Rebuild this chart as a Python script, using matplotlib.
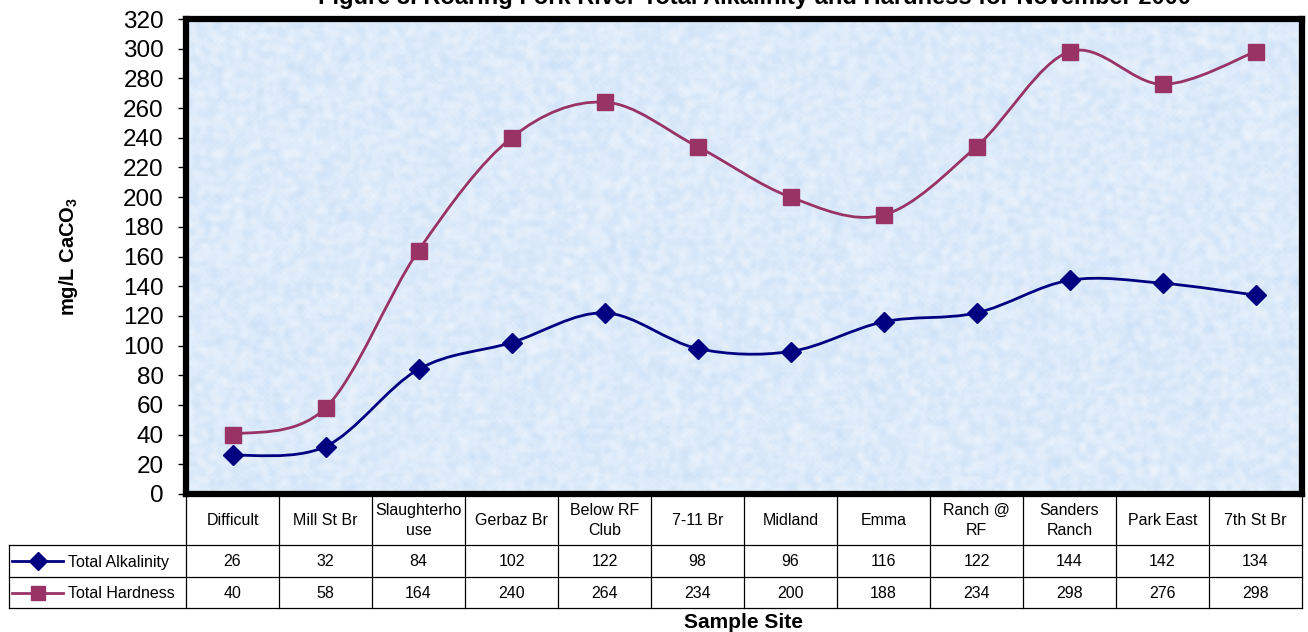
import numpy as np
import matplotlib
matplotlib.use("Agg")
import matplotlib.pyplot as plt
from matplotlib.path import Path
from matplotlib.patches import PathPatch
from matplotlib.lines import Line2D
import matplotlib.transforms as mtransforms

plt.rcParams['font.family'] = ['Liberation Sans', 'DejaVu Sans']
plt.rcParams['mathtext.fontset'] = 'custom'
plt.rcParams['mathtext.rm'] = 'Liberation Sans:bold'
plt.rcParams['mathtext.bf'] = 'Liberation Sans:bold'

sites = ["Difficult", "Mill St Br", "Slaughterho\nuse", "Gerbaz Br", "Below RF\nClub",
         "7-11 Br", "Midland", "Emma", "Ranch @\nRF", "Sanders\nRanch", "Park East", "7th St Br"]
alkalinity = [26, 32, 84, 102, 122, 98, 96, 116, 122, 144, 142, 134]
hardness = [40, 58, 164, 240, 264, 234, 200, 188, 234, 298, 276, 298]
series_names = ["Total Alkalinity", "Total Hardness"]
yticks = list(range(0, 321, 20))

ALK_COLOR = "#000080"
HARD_COLOR = "#993366"

W, H = 1308, 632
fig = plt.figure(figsize=(W / 100, H / 100), dpi=100)
fig.patch.set_facecolor("white")

def fx(px):
    return px / W

def fy(py):
    return 1 - py / H

L, R, T, B = 186, 1302, 19, 494
ax = fig.add_axes([fx(L), fy(B), fx(R - L), (B - T) / H])
n = len(sites)
ax.set_xlim(-0.5, n - 0.5)
ax.set_ylim(0, 320)

# tissue-paper style background
rng = np.random.default_rng(7)
tex = rng.random((160, 360))
tex = (tex + np.roll(tex, 1, 0) + np.roll(tex, -1, 0) + np.roll(tex, 1, 1) + np.roll(tex, -1, 1)) / 5
tex = (tex - tex.min()) / (tex.max() - tex.min())
c_dark = np.array([0.79, 0.88, 0.97])
c_light = np.array([0.94, 0.96, 0.99])
img = c_dark + (c_light - c_dark) * tex[..., None]
ax.imshow(img, extent=[0, 1, 0, 1], transform=ax.transAxes, aspect='auto',
          interpolation='bilinear', zorder=0)

def smooth_path(xs, ys):
    pts = np.column_stack([xs, ys]).astype(float)
    verts = [pts[0]]
    codes = [Path.MOVETO]
    m = len(pts)
    for i in range(m - 1):
        p0 = pts[i - 1] if i > 0 else pts[i]
        p1 = pts[i]
        p2 = pts[i + 1]
        p3 = pts[i + 2] if i + 2 < m else pts[i + 1]
        c1 = p1 + (p2 - p0) / 6
        c2 = p2 - (p3 - p1) / 6
        verts += [c1, c2, p2]
        codes += [Path.CURVE4] * 3
    return Path(verts, codes)

x = np.arange(n)
for vals, color in [(alkalinity, ALK_COLOR), (hardness, HARD_COLOR)]:
    ax.add_patch(PathPatch(smooth_path(x, vals), facecolor='none', edgecolor=color,
                           lw=2.0, zorder=3, capstyle='round'))
ax.plot(x, alkalinity, ls='none', marker='D', ms=10.5, color=ALK_COLOR, zorder=4)
ax.plot(x, hardness, ls='none', marker='s', ms=11.5, color=HARD_COLOR, zorder=4)

ax.set_yticks(yticks)
ax.set_yticklabels([str(v) for v in yticks], fontsize=17.5)
ax.tick_params(axis='y', direction='out', length=6, width=1, pad=10)
ax.set_xticks([])
for sp in ax.spines.values():
    sp.set_linewidth(4.5)
    sp.set_color('black')

fig.text(fx(69), fy(256), r"mg/L CaCO$_\mathregular{3}$", rotation=90, fontsize=14.5,
         fontweight='bold', ha='center', va='center')

fig.text(fx(755), fy(4), "Figure 3. Roaring Fork River Total Alkalinity and Hardness for November 2000",
         fontsize=17, fontweight='bold', ha='center', va='baseline')

# data table beneath the plot
blend = mtransforms.blended_transform_factory(ax.transData, fig.transFigure)
row_top, row_h1, row_h2, row_h3 = 494, 545, 577, 608
lc = dict(color='black', lw=0.9, zorder=5)
for i in range(n + 1):
    fig.add_artist(Line2D([i - 0.5, i - 0.5], [fy(row_top), fy(row_h3)], transform=blend, **lc))
for yy in (row_h1, row_h2, row_h3):
    fig.add_artist(Line2D([fx(9), fx(R)], [fy(yy), fy(yy)], transform=fig.transFigure, **lc))
fig.add_artist(Line2D([fx(9), fx(9)], [fy(row_h1), fy(row_h3)], transform=fig.transFigure, **lc))

for i, s in enumerate(sites):
    fig.text(i, fy((row_top + row_h1) / 2 + 1), s, transform=blend, ha='center', va='center',
             fontsize=11.5, linespacing=1.45)
    fig.text(i, fy((row_h1 + row_h2) / 2 + 1), str(alkalinity[i]), transform=blend,
             ha='center', va='center', fontsize=11.5)
    fig.text(i, fy((row_h2 + row_h3) / 2 + 1), str(hardness[i]), transform=blend,
             ha='center', va='center', fontsize=11.5)

for (yy0, yy1), name, color, mk, ms in [((row_h1, row_h2), series_names[0], ALK_COLOR, 'D', 9),
                                        ((row_h2, row_h3), series_names[1], HARD_COLOR, 's', 10)]:
    yc = fy((yy0 + yy1) / 2)
    fig.add_artist(Line2D([fx(12), fx(63)], [yc, yc], color=color, lw=2.0,
                          transform=fig.transFigure))
    fig.add_artist(Line2D([fx(38)], [yc], color=color, marker=mk, ms=ms, ls='none',
                          transform=fig.transFigure))
    fig.text(fx(68), yc - 1 / H, name, ha='left', va='center', fontsize=11.5)

fig.text(fx(743), fy(622), "Sample Site", ha='center', va='center', fontsize=15, fontweight='bold')

fig.savefig("out.png", dpi=100, facecolor='white')
